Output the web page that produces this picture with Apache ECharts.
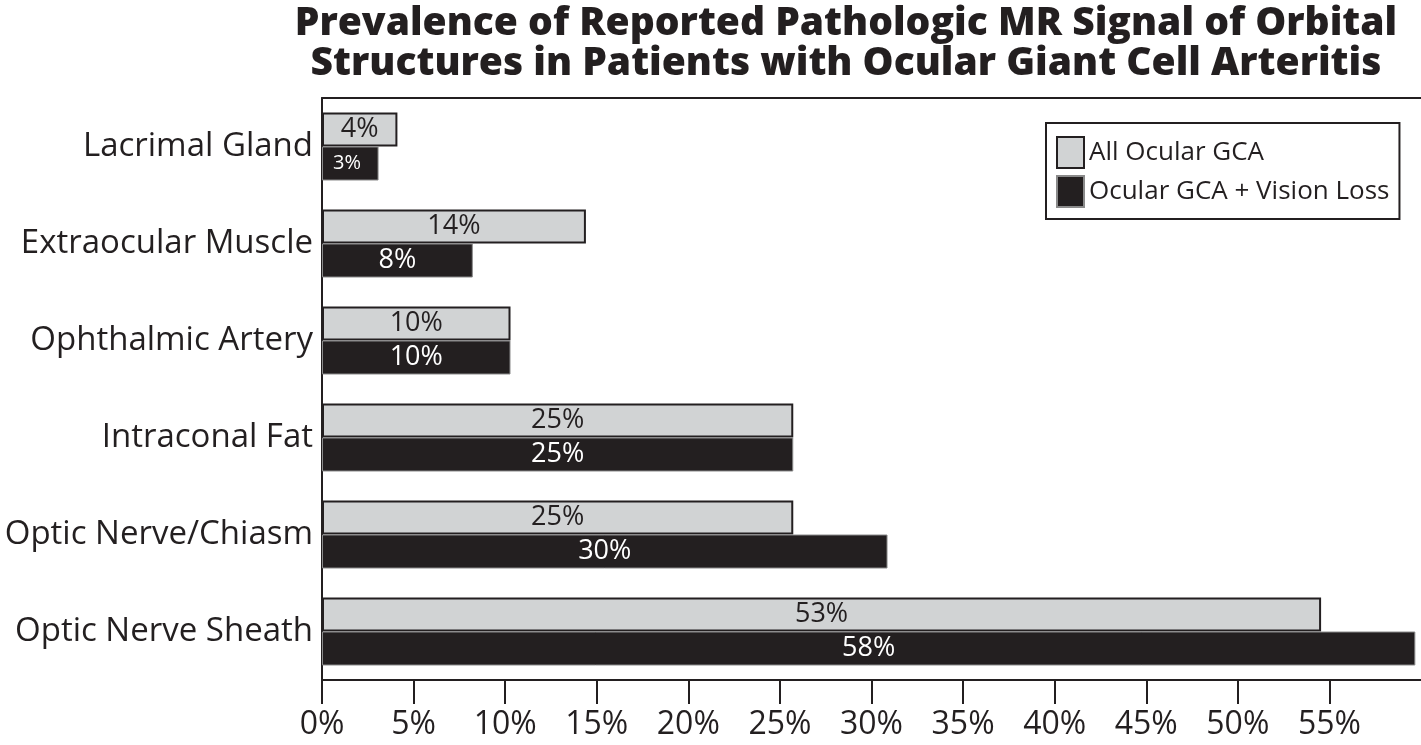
<!DOCTYPE html>
<html>
<head>
<meta charset="utf-8">
<script src="https://cdn.jsdelivr.net/npm/echarts@6/dist/echarts.min.js"></script>
<style>
  html, body { margin: 0; padding: 0; background: #fff; }
  #chart { width: 1421px; height: 745px; }
</style>
</head>
<body>
<div id="chart"></div>
<script>
// data
const categories = ["Lacrimal Gland", "Extraocular Muscle", "Ophthalmic Artery", "Intraconal Fat", "Optic Nerve/Chiasm", "Optic Nerve Sheath"];
const allOcular = [4, 14, 10, 25, 25, 53];
const visionLoss = [3, 8, 10, 25, 30, 58];
const tickValues = [0, 5, 10, 15, 20, 25, 30, 35, 40, 45, 50, 55];

const ink = "#231f20";
const grey = "#d1d3d4";
const font = "'Open Sans', 'Noto Sans', sans-serif";

function barData(values) {
  return values.map(function (v) {
    // the smallest bar carries a smaller label in the figure
    if (v < 4) return { value: v, label: { fontSize: 20, position: "insideLeft", offset: [6, 0] } };
    return v;
  });
}

let myChart = echarts.init(document.getElementById("chart"));
let option = {
  animation: false,
  backgroundColor: "#fff",
  title: {
    text: "Prevalence of Reported Pathologic MR Signal of Orbital\nStructures in Patients with Ocular Giant Cell Arteritis",
    left: 841,
    top: -1,
    textAlign: "center",
    textStyle: {
      fontFamily: font,
      fontWeight: 800,
      fontSize: 39,
      lineHeight: 40,
      color: ink
    }
  },
  legend: {
    orient: "vertical",
    left: 1046,
    top: 123,
    padding: [13, 10, 11, 10],
    borderColor: ink,
    borderWidth: 2,
    icon: "rect",
    itemWidth: 27,
    itemHeight: 31,
    itemGap: 6,
    textStyle: { fontFamily: font, fontSize: 26, color: ink },
    data: ["All Ocular GCA", "Ocular GCA + Vision Loss"]
  },
  grid: { left: 322, right: 0, top: 98, bottom: 65, containLabel: false },
  xAxis: [
    {
      // visible scale with the printed ticks
      type: "value",
      min: 0,
      max: 60,
      position: "bottom",
      axisLine: { show: true, lineStyle: { color: ink, width: 2 } },
      axisTick: { show: true, length: 24, customValues: tickValues, lineStyle: { color: ink, width: 2 } },
      axisLabel: {
        margin: 29,
        fontFamily: font,
        fontSize: 32,
        color: ink,
        customValues: tickValues,
        formatter: "{value}%"
      },
      splitLine: { show: false }
    },
    {
      // scale the bars were drawn on (top frame line)
      type: "value",
      min: 0,
      max: 58.3,
      position: "top",
      axisLine: { show: true, lineStyle: { color: ink, width: 2 } },
      axisTick: { show: false },
      axisLabel: { show: false },
      splitLine: { show: false }
    }
  ],
  yAxis: {
    type: "category",
    data: categories,
    inverse: true,
    axisLine: { show: true, lineStyle: { color: ink, width: 2 } },
    axisTick: { show: false },
    axisLabel: { margin: 9, fontFamily: font, fontSize: 33, color: ink }
  },
  series: [
    {
      name: "All Ocular GCA",
      type: "bar",
      xAxisIndex: 1,
      data: barData(allOcular),
      barWidth: 34,
      barGap: "0%",
      itemStyle: { color: grey, borderColor: ink, borderWidth: 2 },
      label: {
        show: true,
        position: "inside",
        fontFamily: font,
        fontSize: 27,
        color: ink,
        formatter: "{c}%"
      }
    },
    {
      name: "Ocular GCA + Vision Loss",
      type: "bar",
      xAxisIndex: 1,
      data: barData(visionLoss),
      barWidth: 34,
      barGap: "0%",
      itemStyle: { color: ink, borderColor: "#8a8a8a", borderWidth: 1 },
      label: {
        show: true,
        position: "inside",
        fontFamily: font,
        fontSize: 27,
        color: "#fff",
        formatter: "{c}%"
      }
    }
  ]
};

if (option && typeof option === "object") myChart.setOption(option);
window.addEventListener("resize", function () {
  myChart.resize();
});
</script>
</body>
</html>
